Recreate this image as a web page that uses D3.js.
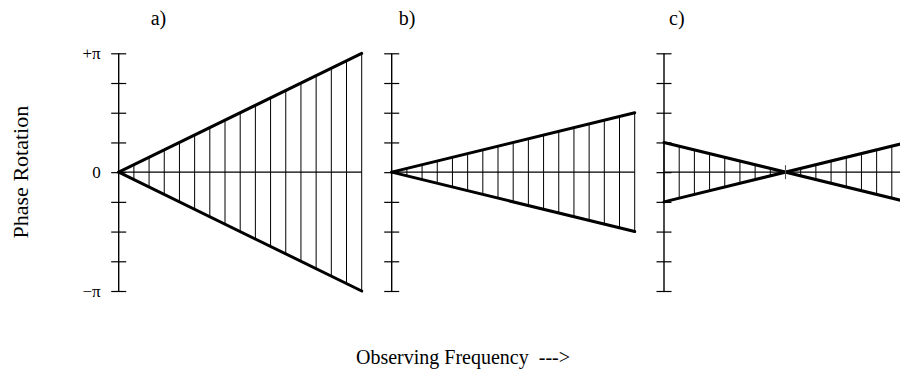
<!DOCTYPE html>
<html>
<head>
<meta charset="utf-8">
<script src="https://cdn.jsdelivr.net/npm/d3@7/dist/d3.min.js"></script>
<style>
  html, body { margin: 0; padding: 0; background: #fff; }
  svg { display: block; }
  text { font-family: "Liberation Serif", "Times New Roman", serif; fill: #000; }
</style>
</head>
<body>
<svg id="chart" width="900" height="373"></svg>
<script>
// Panel captions and where each caption sits (x offset from the panel's phase axis)
const panels = ["a)", "b)", "c)"];
const captionOffset = [32, 7, 5];
// Phase of the upper boundary at the low and high ends of the band (units of π);
// the lower boundary is its mirror image.
const phaseLow  = [0, 0, 0.25];
const phaseHigh = [1, 0.5, -0.25];
// Channel positions across the band (fraction of the band)
const channels = [0, 1, 2, 3, 4, 5, 6, 7, 8, 9, 10, 11, 12, 13, 14, 15, 16].map(i => i / 16);
// Phase-axis ticks (units of π) and their labels
const phaseTicks = [-1, -0.75, -0.5, -0.25, 0, 0.25, 0.5, 0.75, 1];
const tickLabels = { "1": "+\u03c0", "0": "0", "-1": "\u2212\u03c0" };

const svg = d3.select("#chart");

const panelLeft = [118.7, 391.7, 664];
const panelWidth = 243;
const tickHalf = 7.5;

const y = d3.scaleLinear().domain([-Math.PI, Math.PI]).range([291, 53.3]);

panels.forEach((name, i) => {
  const x = d3.scaleLinear().domain([0, 1]).range([panelLeft[i], panelLeft[i] + panelWidth]);
  const g = svg.append("g");

  const upper = f => Math.PI * (phaseLow[i] + (phaseHigh[i] - phaseLow[i]) * f);
  const lower = f => -upper(f);

  // hatching between the two boundaries, one line per channel
  g.selectAll("line.hatch").data(channels).join("line")
    .attr("class", "hatch")
    .attr("x1", d => x(d)).attr("x2", d => x(d))
    .attr("y1", d => y(upper(d))).attr("y2", d => y(lower(d)))
    .attr("stroke", "#000").attr("stroke-width", 1);

  // zero-phase line
  g.append("line")
    .attr("x1", x(0)).attr("x2", x(1))
    .attr("y1", y(0)).attr("y2", y(0))
    .attr("stroke", "#000").attr("stroke-width", 1.1);

  // phase axis
  const axis = d3.axisLeft(y)
    .tickValues(phaseTicks.map(t => t * Math.PI))
    .tickSize(tickHalf)
    .tickSizeOuter(0)
    .tickPadding(0)
    .tickFormat(() => "");
  const ax = g.append("g")
    .attr("transform", `translate(${x(0)},0)`)
    .call(axis);
  ax.select(".domain").remove();
  ax.selectAll(".tick line")
    .attr("x1", -tickHalf).attr("x2", tickHalf)
    .attr("stroke", "#000").attr("stroke-width", 1.2);
  ax.append("line")
    .attr("x1", 0).attr("x2", 0)
    .attr("y1", y(-Math.PI)).attr("y2", y(Math.PI))
    .attr("stroke", "#000").attr("stroke-width", 1.4);

  if (i === 0) {
    ax.selectAll(".tick text")
      .text(d => tickLabels[String(Math.round(d / Math.PI * 4) / 4)] || "")
      .attr("x", -18)
      .attr("dy", "0.33em")
      .attr("text-anchor", "end")
      .style("font-family", "'Liberation Serif', serif")
      .style("font-size", "17px")
      .attr("fill", "#000");
  }

  // boundaries of the phase spread
  const edge = d3.line().x(d => x(d[0])).y(d => y(d[1]));
  [upper, lower].forEach(fn => {
    g.append("path")
      .datum([[0, fn(0)], [1, fn(1)]])
      .attr("d", edge)
      .attr("fill", "none")
      .attr("stroke", "#000")
      .attr("stroke-width", 3)
      .attr("stroke-linecap", "round");
  });

  // marker where the boundaries cross inside the band
  const fc = phaseLow[i] / (phaseLow[i] - phaseHigh[i]);
  if (fc > 0 && fc < 1) {
    g.append("line")
      .attr("x1", x(fc)).attr("x2", x(fc))
      .attr("y1", y(0) - 7).attr("y2", y(0) + 7)
      .attr("stroke", "#555").attr("stroke-width", 1.1);
  }

  // caption
  g.append("text")
    .attr("x", x(0) + captionOffset[i])
    .attr("y", 25)
    .style("font-size", "20px")
    .text(name);
});

// axis titles
svg.append("text")
  .attr("transform", `translate(28,${y(0)}) rotate(-90)`)
  .attr("text-anchor", "middle")
  .style("font-size", "22px")
  .text("Phase Rotation");

svg.append("text")
  .attr("x", 356)
  .attr("y", 364)
  .style("font-size", "20px")
  .style("white-space", "pre")
  .text("Observing Frequency  --->");
</script>
</body>
</html>
